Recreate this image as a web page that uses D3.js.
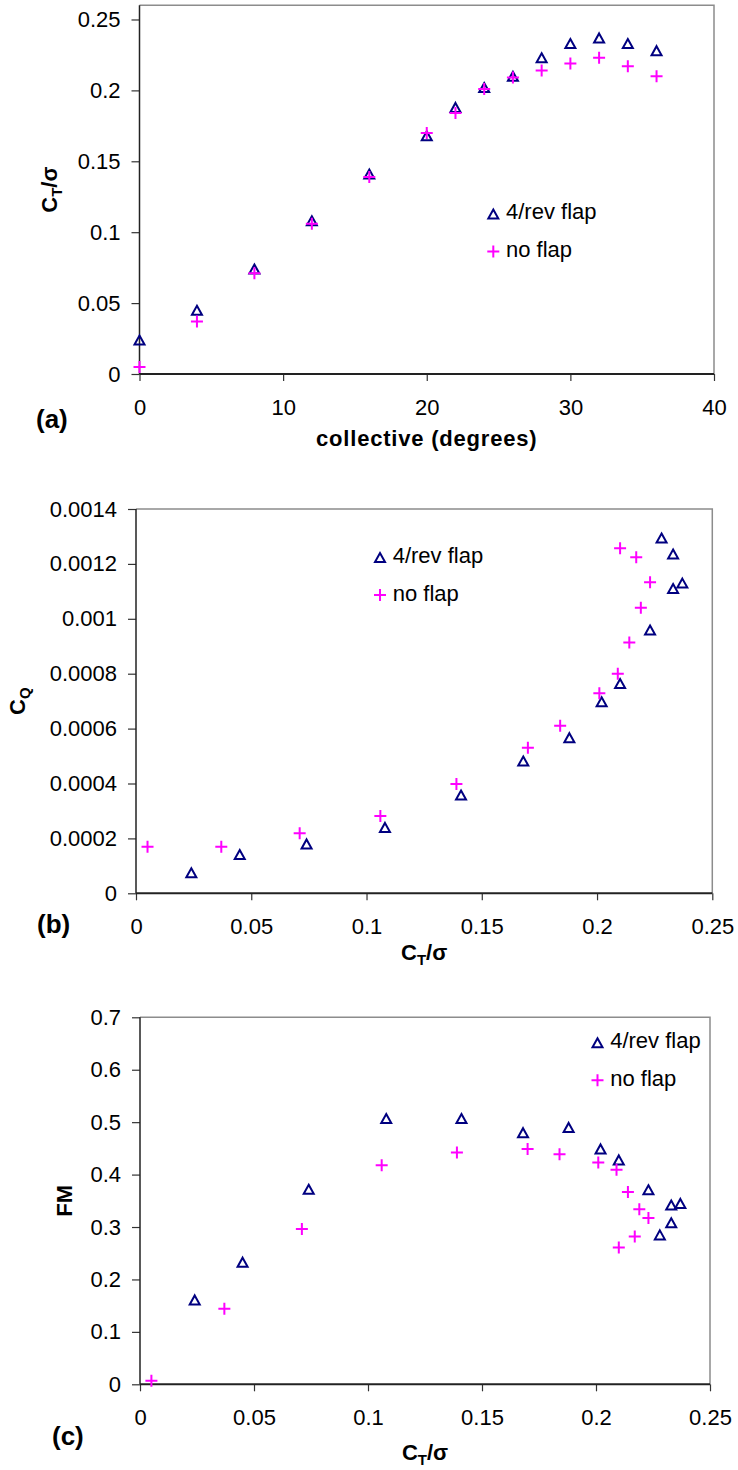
<!DOCTYPE html>
<html>
<head>
<meta charset="utf-8">
<script src="https://cdn.jsdelivr.net/npm/d3@7"></script>
<style>
html,body{margin:0;padding:0;background:#fff;}
svg{display:block;}
text{font-family:"Liberation Sans",Arial,sans-serif;fill:#000;}
</style>
</head>
<body>
<script>
// ---------- data ----------
const collective = [0,4,8,12,16,20,22,24,26,28,30,32,34,36];
const ctFlap   = [0.024,0.045,0.074,0.108,0.141,0.168,0.188,0.202,0.210,0.223,0.233,0.237,0.233,0.228];
const ctNoFlap = [0.005,0.037,0.071,0.106,0.139,0.170,0.184,0.201,0.209,0.214,0.219,0.223,0.217,0.210];
const cqFlap   = [0.000075,0.000141,0.000180,0.000240,0.000358,0.000482,0.000567,0.000698,0.000764,0.000959,0.001110,0.001130,0.001236,0.001294];
const cqNoFlap = [0.000170,0.000170,0.000219,0.000282,0.000398,0.000530,0.000610,0.000729,0.000800,0.000914,0.001040,0.001133,0.001224,0.001257];
const fmFlap   = [0.161,0.233,0.372,0.507,0.507,0.480,0.490,0.449,0.428,0.371,0.342,0.345,0.308,0.285];
const fmNoFlap = [0.007,0.144,0.296,0.418,0.442,0.449,0.439,0.423,0.409,0.367,0.334,0.317,0.282,0.261];

const seriesNames = ["4/rev flap","no flap"];

const xTicksA = [0,10,20,30,40];
const xTickLabelsA = ["0","10","20","30","40"];
const yTicksA = [0,0.05,0.1,0.15,0.2,0.25];
const yTickLabelsA = ["0","0.05","0.1","0.15","0.2","0.25"];

const xTicksCT = [0,0.05,0.1,0.15,0.2,0.25];
const xTickLabelsCT = ["0","0.05","0.1","0.15","0.2","0.25"];

const yTicksB = [0,0.0002,0.0004,0.0006,0.0008,0.001,0.0012,0.0014];
const yTickLabelsB = ["0","0.0002","0.0004","0.0006","0.0008","0.001","0.0012","0.0014"];

const yTicksC = [0,0.1,0.2,0.3,0.4,0.5,0.6,0.7];
const yTickLabelsC = ["0","0.1","0.2","0.3","0.4","0.5","0.6","0.7"];

// ---------- drawing ----------
const W = 738, H = 1470;
const svg = d3.select("body").append("svg").attr("width", W).attr("height", H);

const NAVY = "#000080", MAG = "#FF00FF";

function triPath(g, x, y){
  const w = 10, h = 9;
  g.append("path")
    .attr("d", `M${x},${y-h/2}L${x+w/2},${y+h/2}L${x-w/2},${y+h/2}Z`)
    .attr("fill","none").attr("stroke",NAVY).attr("stroke-width",2)
    .attr("stroke-linejoin","miter");
}
function plusPath(g, x, y){
  const s = 6;
  g.append("path")
    .attr("d", `M${x-s},${y}H${x+s}M${x},${y-s}V${y+s}`)
    .attr("fill","none").attr("stroke",MAG).attr("stroke-width",2);
}

function ctSigma(t, base){
  t.append("tspan").text("C");
  t.append("tspan").text("T").attr("font-size", 15).attr("dy", 5);
  t.append("tspan").text("/σ").attr("dy", -5);
}

function panel(cfg){
  const g = svg.append("g");
  const x = d3.scaleLinear().domain(cfg.xDomain).range([cfg.left, cfg.right]);
  const y = d3.scaleLinear().domain(cfg.yDomain).range([cfg.bottom, cfg.top]);

  // border (top/right gray)
  g.append("path")
    .attr("d", `M${cfg.left},${cfg.top}H${cfg.right}V${cfg.bottom}`)
    .attr("fill","none").attr("stroke","#8c8c8c").attr("stroke-width",1.5);

  // axes
  const ya = g.append("g").attr("transform", `translate(${cfg.left},0)`)
    .call(d3.axisLeft(y).tickValues(cfg.yTicks).tickFormat((d,i)=>cfg.yTickLabels[i]).tickSize(8).tickPadding(11));
  const xa = g.append("g").attr("transform", `translate(0,${cfg.bottom})`)
    .call(d3.axisBottom(x).tickValues(cfg.xTicks).tickFormat((d,i)=>cfg.xTickLabels[i]).tickSize(7).tickPadding(18));
  [ya, xa].forEach(a => {
    a.select(".domain").remove();
    a.selectAll(".tick line").attr("stroke","#333").attr("stroke-width",1.2);
    a.selectAll(".tick text").attr("font-size",22).attr("fill","#000")
      .style("font-family",'"Liberation Sans",Arial,sans-serif');
  });
  g.append("line").attr("x1",cfg.left).attr("x2",cfg.left).attr("y1",cfg.top).attr("y2",cfg.bottom)
    .attr("stroke","#222").attr("stroke-width",1.5);
  g.append("line").attr("x1",cfg.left).attr("x2",cfg.right).attr("y1",cfg.bottom).attr("y2",cfg.bottom)
    .attr("stroke","#222").attr("stroke-width",2);

  // data: no flap first then flap? draw triangles first, pluses on top
  const mk = g.append("g");
  cfg.flapX.forEach((d,i)=> triPath(mk, x(d), y(cfg.flapY[i])));
  cfg.noX.forEach((d,i)=> plusPath(mk, x(d), y(cfg.noY[i])));

  // legend
  const lg = g.append("g");
  triPath(lg, cfg.legX, cfg.legY);
  plusPath(lg, cfg.legX, cfg.legY + 37.5);
  lg.append("text").attr("x", cfg.legX + 12.7).attr("y", cfg.legY + 5).attr("font-size",22).text(seriesNames[0]);
  lg.append("text").attr("x", cfg.legX + 12.7).attr("y", cfg.legY + 43).attr("font-size",22).text(seriesNames[1]);

  // panel label
  g.append("text").attr("x", cfg.labX).attr("y", cfg.labY).attr("font-size",26).attr("font-weight","bold").text(cfg.label);

  // x title
  const xt = g.append("text").attr("x", (cfg.left+cfg.right)/2).attr("y", cfg.xTitleY)
    .attr("text-anchor","middle").attr("font-size",22).attr("font-weight","bold");
  cfg.xTitle(xt);

  // y title
  const yt = g.append("text").attr("transform", `translate(${cfg.yTitleX},${(cfg.top+cfg.bottom)/2}) rotate(-90)`)
    .attr("text-anchor","middle").attr("font-size",22).attr("font-weight","bold");
  cfg.yTitle(yt);
}

// (a)
panel({
  left:139.5, right:714, top:5.3, bottom:374,
  xDomain:[0,40], yDomain:[0,0.26],
  xTicks:xTicksA, xTickLabels:xTickLabelsA, yTicks:yTicksA, yTickLabels:yTickLabelsA,
  flapX:collective, flapY:ctFlap, noX:collective, noY:ctNoFlap,
  legX:493.3, legY:214,
  label:"(a)", labX:36, labY:428,
  xTitleY:446, xTitle:t=>t.attr("letter-spacing",0.8).text("collective (degrees)"),
  yTitleX:57, yTitle:t=>ctSigma(t)
});

// (b)
panel({
  left:136, right:712.3, top:509, bottom:893.3,
  xDomain:[0,0.25], yDomain:[0,0.0014],
  xTicks:xTicksCT, xTickLabels:xTickLabelsCT, yTicks:yTicksB, yTickLabels:yTickLabelsB,
  flapX:ctFlap, flapY:cqFlap, noX:ctNoFlap, noY:cqNoFlap,
  legX:380, legY:557.5,
  label:"(b)", labX:37, labY:933,
  xTitleY:960, xTitle:t=>ctSigma(t),
  yTitleX:25, yTitle:t=>{ t.append("tspan").text("C"); t.append("tspan").text("Q").attr("font-size",15).attr("dy",5); }
});

// (c)
panel({
  left:140, right:710, top:1017.3, bottom:1384.3,
  xDomain:[0,0.25], yDomain:[0,0.7],
  xTicks:xTicksCT, xTickLabels:xTickLabelsCT, yTicks:yTicksC, yTickLabels:yTickLabelsC,
  flapX:ctFlap, flapY:fmFlap, noX:ctNoFlap, noY:fmNoFlap,
  legX:597.5, legY:1042.8,
  label:"(c)", labX:52, labY:1445,
  xTitleY:1460, xTitle:t=>ctSigma(t),
  yTitleX:72, yTitle:t=>t.text("FM")
});
</script>
</body>
</html>
